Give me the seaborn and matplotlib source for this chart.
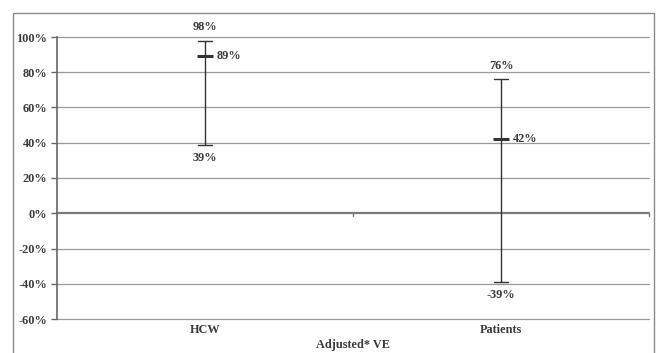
import numpy as np
import pandas as pd
import matplotlib
matplotlib.use("Agg")
import matplotlib.pyplot as plt
import seaborn as sns
from matplotlib.patches import Rectangle
from matplotlib.ticker import FuncFormatter

# Adjusted vaccine effectiveness (%) with 95% CI
groups = ["HCW", "Patients"]
ve_point = [89, 42]
ci_low = [39, -39]
ci_high = [98, 76]

yticks = list(range(-60, 101, 20))

# long table: low / point / high per group -> median = point, range = CI
df = pd.DataFrame({
    "group": np.repeat(groups, 3),
    "ve": [v for trio in zip(ci_low, ve_point, ci_high) for v in trio],
})

sns.set_style("white")
plt.rcParams["font.family"] = ["Liberation Serif", "DejaVu Serif"]
plt.rcParams["font.weight"] = "bold"
txt_col = "#3a3a3a"
fs = 8.8

fig = plt.figure(figsize=(6.57, 3.53), dpi=100)
ax = fig.add_axes([57 / 657, 1 - 319 / 353, (649 - 57) / 657, (319 - 37) / 353])

# outer frame around the chart
fig.patches.append(Rectangle((13 / 657, -0.05), (654 - 13) / 657, 1 - 13 / 353 + 0.05,
                             transform=fig.transFigure, fill=False,
                             edgecolor="#8a8a8a", linewidth=1.0))

for t in yticks:
    ax.axhline(t, color="#9a9a9a" if t != 0 else "#7a7a7a",
               linewidth=0.9 if t != 0 else 1.6, zorder=0, clip_on=False)

sns.pointplot(data=df, x="group", y="ve", estimator="median",
              errorbar=lambda v: (v.min(), v.max()),
              capsize=0.045, linestyle="none", marker="_", markersize=11,
              markeredgewidth=2.2, color="#333333", err_kws={"linewidth": 1.0},
              ax=ax)

ax.set_xlim(-0.5, 1.5)
ax.set_ylim(-60, 100)
ax.set_yticks(yticks)
ax.yaxis.set_major_formatter(FuncFormatter(lambda v, p: f"{int(v)}%"))
ax.tick_params(axis="y", length=4, width=1, color="#666666", labelsize=fs,
               labelcolor=txt_col, pad=3, left=True)
ax.set_ylabel("")

# category labels sit under the plot, x axis line sits at 0%
ax.set_xticks([])
ax.set_xlabel("")
for i, g in enumerate(groups):
    ax.text(i, -66.5, g, ha="center", va="center", fontsize=fs, color=txt_col,
            clip_on=False)
for b in [0.5, 1.5]:
    ax.plot([b, b], [0, -1.6], color="#7a7a7a", linewidth=1, clip_on=False)
ax.text(0.5, -75, "Adjusted* VE", ha="center", va="center", fontsize=fs,
        color=txt_col, clip_on=False)

for s in ["top", "right", "bottom"]:
    ax.spines[s].set_visible(False)
ax.spines["left"].set_color("#666666")
ax.spines["left"].set_linewidth(1.2)

# value labels
for i in range(len(groups)):
    ax.text(i, ci_high[i] + 7.5, f"{ci_high[i]}%", ha="center", va="center",
            fontsize=fs, color=txt_col, clip_on=False)
    ax.text(i, ci_low[i] - 7.5, f"{ci_low[i]}%", ha="center", va="center",
            fontsize=fs, color=txt_col)
    ax.text(i + 0.04, ve_point[i], f"{ve_point[i]}%", ha="left", va="center",
            fontsize=fs, color=txt_col)

fig.savefig("out.png", dpi=100, facecolor="white")
